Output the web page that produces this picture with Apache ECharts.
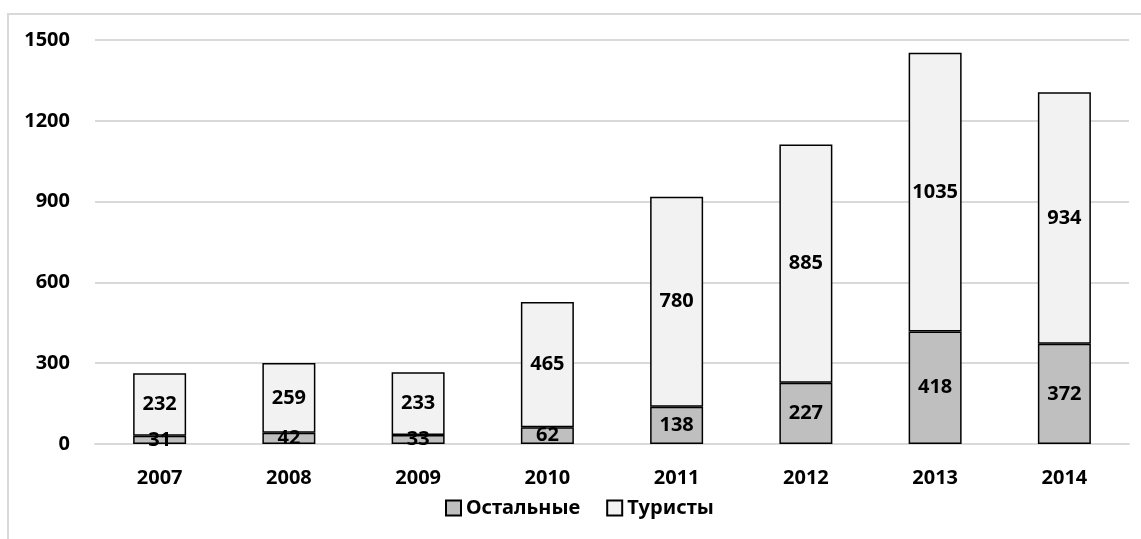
<!DOCTYPE html>
<html><head><meta charset="utf-8">
<script src="https://cdn.jsdelivr.net/npm/echarts@6/dist/echarts.min.js"></script>
<style>html,body{margin:0;padding:0;background:#fff}#c{width:1141px;height:539px}</style>
</head><body><div id="c"></div>
<script>
const categories = ['2007','2008','2009','2010','2011','2012','2013','2014'];
const others = [31, 42, 33, 62, 138, 227, 418, 372];
const tourists = [232, 259, 233, 465, 780, 885, 1035, 934];
const yTicks = [0, 300, 600, 900, 1200, 1500];

const FONT = '"Noto Sans", "Open Sans", sans-serif';
const FS = 20;
const chart = echarts.init(document.getElementById('c'));
const lbl = {show: true, position: 'inside', color: '#000', fontFamily: FONT, fontWeight: 'bold', fontSize: FS};
chart.setOption({
  animation: false,
  graphic: [{type: 'rect', shape: {x: 8, y: 14, width: 1160, height: 560}, style: {fill: 'none', stroke: '#d9d9d9', lineWidth: 2}, silent: true}],
  grid: {left: 95, right: 12, top: 40, bottom: 95, containLabel: false},
  legend: {
    bottom: 16, left: 440, itemWidth: 15, itemHeight: 15, itemGap: 26,
    icon: 'rect',
    textStyle: {fontFamily: FONT, fontWeight: 'bold', fontSize: FS, color: '#000'},
    data: ['Остальные', 'Туристы']
  },
  xAxis: {
    type: 'category', data: categories,
    axisLine: {show: true, lineStyle: {color: '#d9d9d9', width: 2}},
    axisTick: {show: false},
    axisLabel: {color: '#000', fontFamily: FONT, fontWeight: 'bold', fontSize: FS, margin: 24}
  },
  yAxis: {
    type: 'value', min: yTicks[0], max: yTicks[yTicks.length-1], interval: 300,
    axisLine: {show: false}, axisTick: {show: false},
    splitLine: {lineStyle: {color: '#d9d9d9', width: 2}},
    axisLabel: {color: '#000', fontFamily: FONT, fontWeight: 'bold', fontSize: FS, margin: 25,
      formatter: v => String(v)}
  },
  series: [
    {name: 'Остальные', type: 'bar', stack: 's', data: others, barWidth: '41%',
     itemStyle: {color: '#bfbfbf', borderColor: '#000', borderWidth: 1.5}, label: lbl},
    {name: 'Туристы', type: 'bar', stack: 's', data: tourists, barWidth: '41%',
     itemStyle: {color: '#f2f2f2', borderColor: '#000', borderWidth: 1.5}, label: lbl}
  ]
});
</script></body></html>
